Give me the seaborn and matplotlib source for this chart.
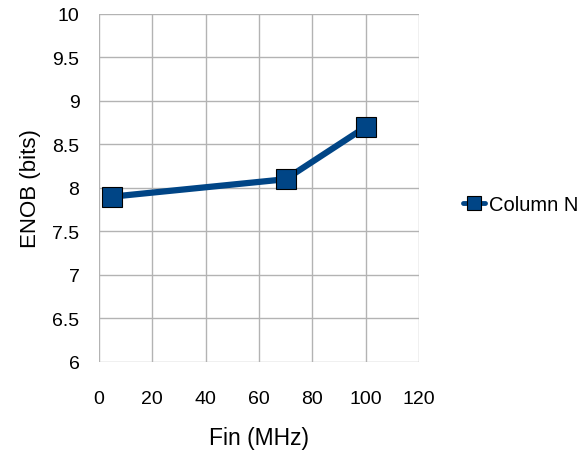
import numpy as np
import pandas as pd
import matplotlib
matplotlib.use("Agg")
import matplotlib.pyplot as plt
import seaborn as sns

fin_mhz = [5, 70, 100]
enob_bits = [7.9, 8.1, 8.7]
series_name = "Column N"

df = pd.DataFrame({"Fin (MHz)": fin_mhz, "ENOB (bits)": enob_bits, "series": series_name})

sns.set_style("white")
plt.rcParams['font.family'] = ['Liberation Sans', 'DejaVu Sans']
plt.rcParams['text.color'] = 'black'
plt.rcParams['axes.labelcolor'] = 'black'

fig = plt.figure(figsize=(5.85, 4.52), dpi=100)
ax = fig.add_axes([0.169, 0.197, 0.547, 0.77])

sns.lineplot(data=df, x="Fin (MHz)", y="ENOB (bits)", hue="series", palette=["#004586"],
             marker="s", markersize=14, markeredgecolor="black", markeredgewidth=0.8,
             linewidth=4.5, ax=ax, legend=False)

ax.set_xlim(0, 120)
ax.set_ylim(6, 10)
ax.set_xticks(np.arange(0, 121, 20))
ax.set_yticks(np.arange(6, 10.01, 0.5))
ax.set_yticklabels(["6", "6.5", "7", "7.5", "8", "8.5", "9", "9.5", "10"])
ax.grid(True, color="#b3b3b3", linewidth=1)
ax.set_axisbelow(True)
for s in ax.spines.values():
    s.set_visible(False)
ax.tick_params(axis="both", direction="out", length=4, width=1, color="#b3b3b3",
               labelsize=14, pad=10, labelcolor="black")
ax.tick_params(axis="x", pad=16)
ax.set_xlabel("Fin (MHz)", fontsize=16.5, labelpad=14)
ax.set_ylabel("ENOB (bits)", fontsize=16, labelpad=8)

handle = plt.Line2D([], [], color="#004586", linewidth=3.5, marker="s", markersize=10,
                    markeredgecolor="black", markeredgewidth=0.8)
fig.legend([handle], [series_name], loc="center left", bbox_to_anchor=(0.76, 0.545),
           frameon=False, fontsize=14.5, handlelength=1.1, handletextpad=0.2)

fig.savefig("out.png", dpi=100)
